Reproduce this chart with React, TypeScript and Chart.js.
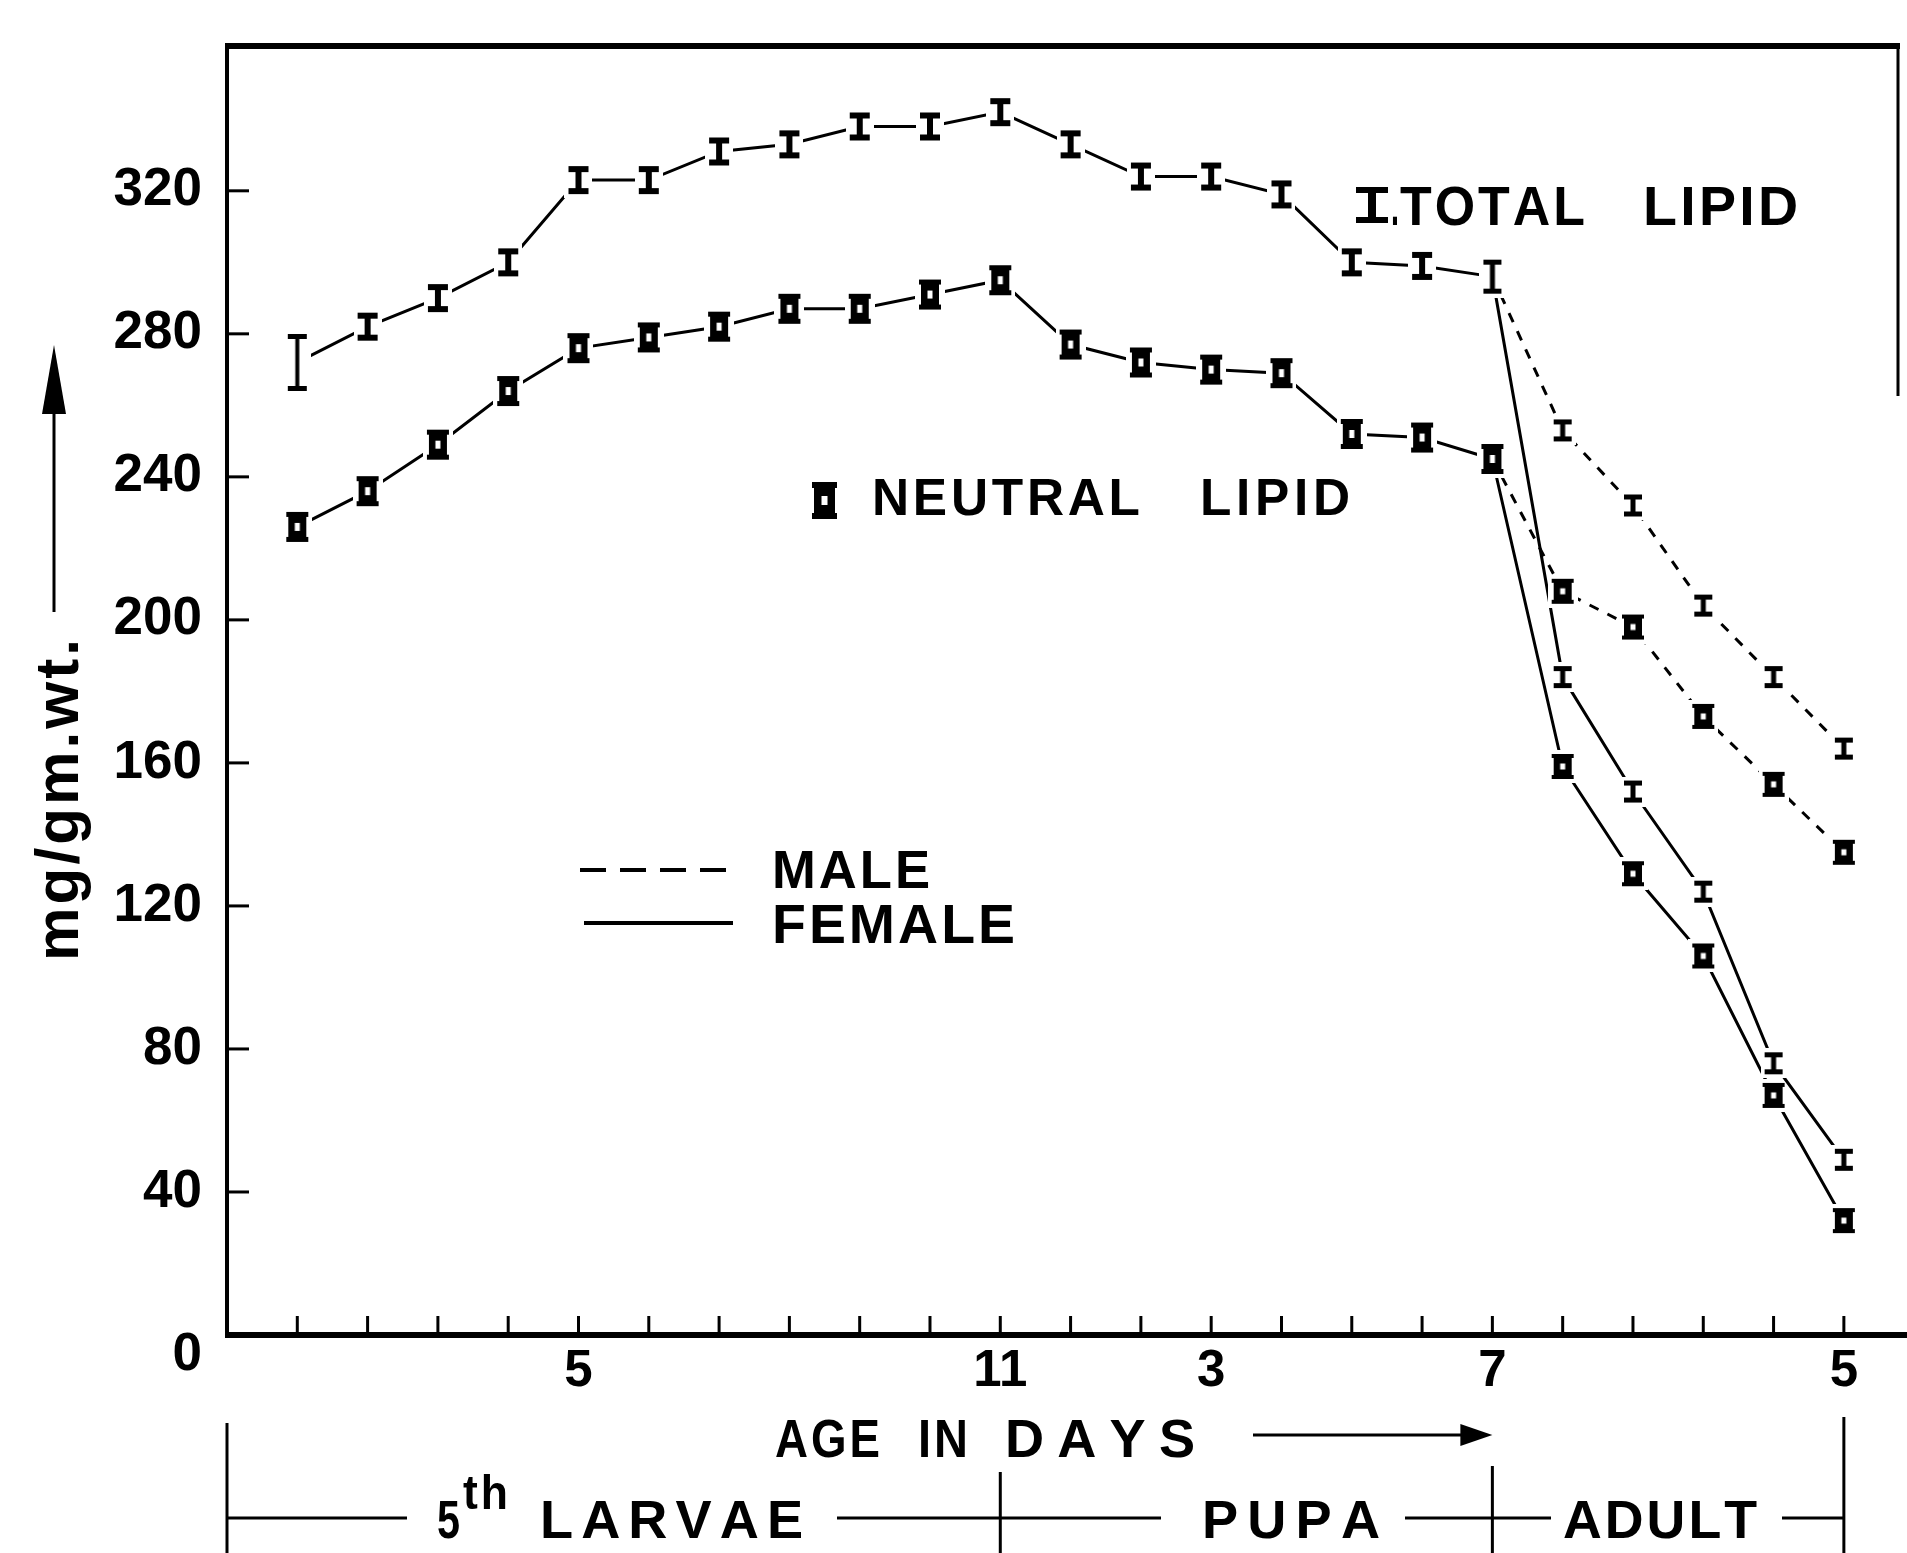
import React, { useEffect, useRef } from 'react';
import { Chart, registerables } from 'chart.js';

Chart.register(...registerables);

const CANVAS_W = 1907;
const CANVAS_H = 1553;

// Age axis positions: 0–10 = 5th-instar larva days 1–11, 11–17 = pupa days 1–7, 18–22 = adult days 1–5
const sharedAge = [0, 1, 2, 3, 4, 5, 6, 7, 8, 9, 10, 11, 12, 13, 14, 15, 16, 17];
const adultAge = [17, 18, 19, 20, 21, 22];

// mg / gm wet weight
const totalLipid = [272, 282, 290, 300, 323, 323, 331, 333, 338, 338, 342, 333, 324, 324, 319, 300, 299, 296];
const neutralLipid = [226, 236, 249, 264, 276, 279, 282, 287, 287, 291, 295, 277, 272, 270, 269, 252, 251, 245];
const maleTotalLipid = [296, 253, 232, 204, 184, 164];
const maleNeutralLipid = [245, 208, 198, 173, 154, 135];
const femaleTotalLipid = [296, 184, 152, 124, 76, 49];
const femaleNeutralLipid = [245, 159, 129, 106, 67, 32];

const yTicks = [0, 40, 80, 120, 160, 200, 240, 280, 320];
const xTickPositions = [4, 10, 13, 17, 22];
const xTickLabels = ['5', '11', '3', '7', '5'];

function makeIBeam(w: number, h: number, stem: number, cap: number, m = 4) {
  const c = document.createElement('canvas');
  c.width = w + 2 * m;
  c.height = h + 2 * m;
  const g = c.getContext('2d')!;
  g.fillStyle = '#fff';
  g.fillRect(0, 0, c.width, c.height);
  g.fillStyle = '#000';
  g.fillRect(m, m, w, cap);
  g.fillRect(m, m + h - cap, w, cap);
  g.fillRect(m + (w - stem) / 2, m, stem, h);
  return c;
}

function makeBlock(w: number, h: number, m = 4) {
  const c = document.createElement('canvas');
  c.width = w + 2 * m;
  c.height = h + 2 * m;
  const g = c.getContext('2d')!;
  g.fillStyle = '#fff';
  g.fillRect(0, 0, c.width, c.height);
  g.fillStyle = '#000';
  const cap = Math.max(3, Math.round(h * 0.15));
  g.fillRect(m, m, w, cap);
  g.fillRect(m, m + h - cap, w, cap);
  g.fillRect(m + 2, m, w - 4, h);
  g.fillStyle = '#fff';
  const hw = Math.max(3, Math.round(w * 0.22));
  const hh = Math.max(4, Math.round(h * 0.25));
  g.fillRect(m + (w - hw) / 2, m + (h - hh) / 2, hw, hh);
  return c;
}

export default function App() {
  const ref = useRef<HTMLCanvasElement>(null);

  useEffect(() => {
    const canvas = ref.current;
    if (!canvas) return;
    const SANS = `"Liberation Sans", Arial, "DejaVu Sans", sans-serif`;

    const spread = (
      ctx: CanvasRenderingContext2D,
      text: string,
      x0: number,
      x1: number,
      cy: number,
      cap: number,
      family = SANS,
      ratio = 0.72,
      stretch = false,
      weight = 'bold',
    ) => {
      const size = cap / ratio;
      ctx.font = `${weight} ${size}px ${family}`;
      ctx.textAlign = 'left';
      ctx.textBaseline = 'alphabetic';
      const chars = Array.from(text);
      const ws = chars.map((c) => ctx.measureText(c).width);
      const natural = ws.reduce((s, v) => s + v, 0);
      const span = x1 - x0;
      const n = chars.length;
      const minGap = n > 1 ? 3 : 0;
      let sx = (span - minGap * (n - 1)) / natural;
      if (!stretch) sx = Math.min(1, sx);
      const gap = n > 1 ? (span - natural * sx) / (n - 1) : 0;
      let cx = x0;
      chars.forEach((c, i) => {
        ctx.save();
        ctx.translate(cx, cy + cap / 2);
        ctx.scale(sx, 1);
        ctx.fillText(c, 0, 0);
        ctx.restore();
        cx += ws[i] * sx + gap;
      });
    };

    const iMark = makeIBeam(20, 28, 6, 6);
    const iTall = makeIBeam(19, 57, 4, 5);
    const iMid = makeIBeam(18, 34, 5, 5);
    const iSmall = makeIBeam(18, 22, 5, 5);
    const iLegend = makeIBeam(32, 36, 8, 6, 0);
    const nMark = makeBlock(22, 30);
    const nSmall = makeBlock(22, 25);
    const nLegend = makeBlock(25, 37, 0);
    const allAge = [...sharedAge, ...adultAge.slice(1)];

    const decor = {
      id: 'decor',
      afterDraw(chart: any) {
        const { ctx, chartArea: a } = chart;
        const xs = chart.scales.x;
        const ys = chart.scales.y;
        ctx.save();
        ctx.fillStyle = '#000';
        ctx.strokeStyle = '#000';
        ctx.lineCap = 'butt';
        const seg = (x1: number, y1: number, x2: number, y2: number, w: number, dash: number[] = []) => {
          ctx.lineWidth = w;
          ctx.setLineDash(dash);
          ctx.beginPath();
          ctx.moveTo(x1, y1);
          ctx.lineTo(x2, y2);
          ctx.stroke();
          ctx.setLineDash([]);
        };
        const tri = (pts: number[][]) => {
          ctx.beginPath();
          ctx.moveTo(pts[0][0], pts[0][1]);
          pts.slice(1).forEach((p) => ctx.lineTo(p[0], p[1]));
          ctx.closePath();
          ctx.fill();
        };

        // frame
        seg(a.left - 2, a.top, a.right + 2, a.top, 6);
        seg(a.left, a.top - 3, a.left, a.bottom, 4);
        seg(a.right, a.top - 3, a.right, a.top + 350, 3);
        seg(a.left - 2, a.bottom, CANVAS_W, a.bottom, 6);

        // inward tick marks
        xs.ticks.forEach((t: any) => {
          const px = xs.getPixelForValue(t.value);
          seg(px, a.bottom, px, a.bottom - 19, 3);
        });
        ys.ticks.forEach((t: any) => {
          if (t.value === 0) return;
          const py = ys.getPixelForValue(t.value);
          seg(a.left, py, a.left + 22, py, 3);
        });

        // origin label
        ctx.font = `bold 53px ${SANS}`;
        ctx.textAlign = 'right';
        ctx.textBaseline = 'middle';
        ctx.fillText('0', a.left - 25, a.bottom + 20);

        // y title + arrow
        ctx.save();
        ctx.translate(62, 800);
        ctx.rotate(-Math.PI / 2);
        spread(ctx, 'mg/gm.wt.', -161, 161, 0, 32, SANS, 0.52);
        ctx.restore();
        seg(54, 612, 54, 400, 3);
        tri([[54, 345], [42, 414], [66, 414]]);

        // series labels
        ctx.drawImage(iLegend, 1356, 187);
        spread(ctx, '.', 1391, 1399, 205, 40);
        spread(ctx, 'TOTAL', 1400, 1585, 205, 40);
        spread(ctx, 'LIPID', 1643, 1798, 205, 40);
        ctx.drawImage(nLegend, 812, 482);
        spread(ctx, 'NEUTRAL', 872, 1140, 496, 37);
        spread(ctx, 'LIPID', 1200, 1350, 496, 37);

        // sex legend
        seg(580, 870, 732, 870, 4, [26, 14]);
        spread(ctx, 'MALE', 772, 930, 869, 38);
        seg(584, 923, 733, 923, 4);
        spread(ctx, 'FEMALE', 772, 1015, 923, 40);

        // x title + arrow
        const p10 = xs.getPixelForValue(10);
        const p17 = xs.getPixelForValue(17);
        const p22 = xs.getPixelForValue(22);
        spread(ctx, 'AGE', 775, 880, 1437, 39);
        spread(ctx, 'IN', 918, 968, 1437, 39);
        spread(ctx, 'DAYS', 1005, 1195, 1437, 39);
        seg(1253, 1435, p17 - 24, 1435, 3);
        tri([[p17, 1435], [p17 - 32, 1424], [p17 - 32, 1446]]);

        // life stage bar
        const by = 1518;
        seg(a.left, 1423, a.left, CANVAS_H, 3);
        seg(p22, 1417, p22, CANVAS_H, 3);
        seg(p10, 1472, p10, CANVAS_H, 3);
        seg(p17, 1466, p17, CANVAS_H, 3);
        seg(a.left, by, 407, by, 3);
        seg(837, by, 1161, by, 3);
        seg(1405, by, 1551, by, 3);
        seg(1782, by, p22, by, 3);
        spread(ctx, '5', 437, 460, 1518, 39);
        spread(ctx, 'th', 463, 508, 1492, 34);
        spread(ctx, 'LARVAE', 540, 803, 1518, 39);
        spread(ctx, 'PUPA', 1202, 1380, 1518, 39);
        spread(ctx, 'ADULT', 1563, 1757, 1518, 39);

        ctx.restore();
      },
    };

    const xy = (xs: number[], ys: number[]) => xs.map((x, i) => ({ x, y: ys[i] }));
    const base = {
      borderColor: '#000',
      backgroundColor: '#000',
      borderWidth: 3,
      tension: 0,
      fill: false,
      pointRadius: 6,
      pointHoverRadius: 6,
    };
    const hideFirst = (c: any) => (c.dataIndex === 0 ? 0 : 6);

    const chart = new Chart(canvas, {
      type: 'line',
      data: {
        datasets: [
          {
            ...base,
            label: 'Total lipid',
            data: xy(sharedAge, totalLipid),
            pointStyle: (c: any) => (c.dataIndex === 0 ? iTall : c.dataIndex === 17 ? iMid : iMark),
          },
          { ...base, label: 'Neutral lipid', data: xy(sharedAge, neutralLipid), pointStyle: nMark },
          {
            ...base,
            label: 'Male total lipid',
            data: xy(adultAge, maleTotalLipid),
            borderDash: [10, 10],
            pointStyle: iSmall,
            pointRadius: hideFirst,
          },
          {
            ...base,
            label: 'Male neutral lipid',
            data: xy(adultAge, maleNeutralLipid),
            borderDash: [10, 10],
            pointStyle: nSmall,
            pointRadius: hideFirst,
          },
          {
            ...base,
            label: 'Female total lipid',
            data: xy(adultAge, femaleTotalLipid),
            pointStyle: iSmall,
            pointRadius: hideFirst,
          },
          {
            ...base,
            label: 'Female neutral lipid',
            data: xy(adultAge, femaleNeutralLipid),
            pointStyle: nSmall,
            pointRadius: hideFirst,
          },
        ] as any,
      },
      options: {
        responsive: false,
        animation: false,
        devicePixelRatio: 1,
        events: [],
        layout: { padding: { left: 107, right: 7, top: 46, bottom: 148 } },
        plugins: { legend: { display: false }, tooltip: { enabled: false } },
        scales: {
          x: {
            type: 'linear',
            min: -1,
            max: 22.77,
            grid: { display: false, drawTicks: false },
            border: { display: false },
            afterBuildTicks: (s: any) => {
              s.ticks = allAge.map((v) => ({ value: v }));
            },
            afterFit: (s: any) => {
              s.height = 70;
              s.paddingLeft = 0;
              s.paddingRight = 0;
              s.paddingTop = 0;
              s.paddingBottom = 0;
            },
            ticks: {
              autoSkip: false,
              maxRotation: 0,
              minRotation: 0,
              padding: 6,
              color: '#000',
              font: { family: SANS, size: 51, weight: 'bold' },
              callback: (v: any) => {
                const k = xTickPositions.indexOf(Number(v));
                return k >= 0 ? xTickLabels[k] : '';
              },
            },
          },
          y: {
            type: 'linear',
            min: 0,
            max: 360.5,
            grid: { display: false, drawTicks: false },
            border: { display: false },
            afterBuildTicks: (s: any) => {
              s.ticks = yTicks.map((v) => ({ value: v }));
            },
            afterFit: (s: any) => {
              s.width = 120;
              s.paddingLeft = 0;
              s.paddingRight = 0;
              s.paddingTop = 0;
              s.paddingBottom = 0;
            },
            ticks: {
              padding: 25,
              color: '#000',
              font: { family: SANS, size: 53, weight: 'bold' },
              callback: (v: any) => (Number(v) === 0 ? '' : String(v)),
            },
          },
        },
      } as any,
      plugins: [decor],
    });
    return () => chart.destroy();
  }, []);

  return (
    <canvas
      ref={ref}
      width={CANVAS_W}
      height={CANVAS_H}
      style={{ position: 'fixed', left: 0, top: 0, width: CANVAS_W, height: CANVAS_H, display: 'block', background: '#fff' }}
    />
  );
}
